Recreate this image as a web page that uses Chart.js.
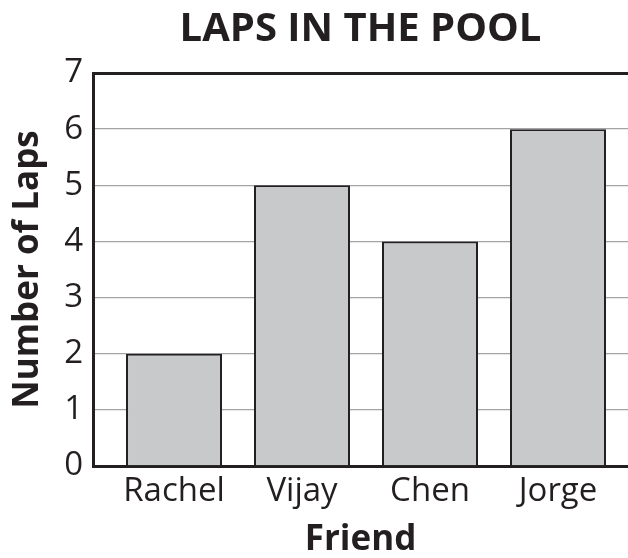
<!DOCTYPE html>
<html>
<head>
<meta charset="utf-8">
<script src="https://cdn.jsdelivr.net/npm/chart.js@4"></script>
<style>
  body { margin: 0; background: #fff; }
  #lapsChart { display: block; }
</style>
</head>
<body>
<canvas id="lapsChart" width="628" height="558"></canvas>
<script>
// Data
const friends = ['Rachel', 'Vijay', 'Chen', 'Jorge'];
const laps = [2, 5, 4, 6];
const yTicks = [0, 1, 2, 3, 4, 5, 6, 7];

const ink = '#231f20';
const fontFamily = '"Open Sans", "Noto Sans", sans-serif';

const ctx = document.getElementById('lapsChart').getContext('2d');

new Chart(ctx, {
    type: 'bar',
    data: {
        datasets: [{
            label: 'Number of Laps',
            data: friends.map((f, i) => ({ x: i, y: laps[i] })),
            backgroundColor: '#c8c9cb',
            borderColor: ink,
            borderWidth: 2,
            borderSkipped: 'bottom',
            categoryPercentage: 0.75,
            barPercentage: 1
        }]
    },
    options: {
        responsive: false,
        animation: false,
        layout: { padding: 0 },
        plugins: {
            legend: { display: false },
            tooltip: { enabled: false },
            title: {
                display: true,
                fullSize: false,
                text: 'LAPS IN THE POOL',
                color: ink,
                font: { size: 40, weight: 'bold', family: fontFamily, lineHeight: 1.2 },
                padding: { top: 5.5, bottom: 19.5 }
            }
        },
        scales: {
            x: {
                type: 'linear',
                offset: false, // keep the axis range exactly as set
                min: -0.633,
                max: 3.547,
                afterBuildTicks: (scale) => {
                    scale.ticks = friends.map((f, i) => ({ value: i }));
                },
                afterFit: (scale) => { scale.height = 92; },
                ticks: {
                    callback: (value) => friends[value],
                    color: ink,
                    font: { size: 33, family: fontFamily },
                    padding: 6,
                    maxRotation: 0,
                    autoSkip: false
                },
                grid: { display: false, drawTicks: false },
                border: { display: true, color: ink, width: 3 },
                title: {
                    display: true,
                    text: 'Friend',
                    color: ink,
                    font: { size: 35, weight: 'bold', family: fontFamily, lineHeight: 1 },
                    padding: { top: 0, bottom: 0 }
                }
            },
            y: {
                min: 0,
                max: 7,
                afterBuildTicks: (scale) => {
                    scale.ticks = yTicks.map(v => ({ value: v }));
                },
                afterFit: (scale) => { scale.width = 93; },
                ticks: {
                    color: ink,
                    font: { size: 33, family: fontFamily },
                    padding: 10
                },
                grid: {
                    drawTicks: false,
                    // top line of the frame is dark, the rest light gray
                    color: (c) => c.tick && c.tick.value === 7 ? ink : '#a3a4a6',
                    lineWidth: (c) => c.tick && c.tick.value === 7 ? 3 : 1.3
                },
                border: { display: true, color: ink, width: 3 },
                title: {
                    display: true,
                    text: 'Number of Laps',
                    color: ink,
                    font: { size: 35, weight: 'bold', family: fontFamily, lineHeight: 1.2 },
                    padding: { top: 7, bottom: 0 }
                }
            }
        }
    }
});
</script>
</body>
</html>
